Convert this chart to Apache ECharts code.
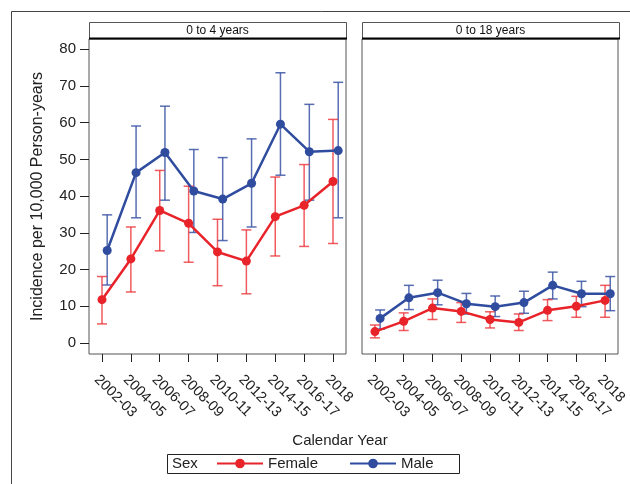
<!DOCTYPE html>
<html><head><meta charset="utf-8">
<script src="https://cdn.jsdelivr.net/npm/echarts@6/dist/echarts.min.js"></script>
<style>html,body{margin:0;padding:0;background:#fff}#c{width:630px;height:484px}</style>
</head><body><div id="c"></div>
<script>
const categories = ['2002-03','2004-05','2006-07','2008-09','2010-11','2012-13','2014-15','2016-17','2018'];
const yTicks = [0,10,20,30,40,50,60,70,80];
const panelTitles = ['0 to 4 years','0 to 18 years'];

const femaleA = [11.8, 22.9, 36.1, 32.6, 24.8, 22.3, 34.4, 37.5, 44.0];
const femaleALo = [5.2, 13.9, 25.1, 22.0, 15.6, 13.4, 23.7, 26.3, 27.1];
const femaleAHi = [18.1, 31.6, 47.0, 42.7, 33.7, 30.8, 45.2, 48.6, 60.9];
const maleA = [25.2, 46.4, 51.9, 41.4, 39.2, 43.5, 59.6, 52.1, 52.4];
const maleALo = [15.8, 34.1, 38.9, 30.1, 27.9, 31.6, 45.7, 38.9, 34.1];
const maleAHi = [34.9, 59.1, 64.5, 52.7, 50.5, 55.6, 73.6, 65.0, 71.0];

const femaleB = [3.1, 5.9, 9.5, 8.6, 6.4, 5.6, 8.9, 10.0, 11.6];
const femaleBLo = [1.4, 3.4, 6.4, 5.6, 4.1, 3.4, 6.1, 7.0, 7.0];
const femaleBHi = [4.9, 8.2, 12.0, 11.0, 8.5, 7.9, 11.8, 12.7, 15.7];
const maleB = [6.7, 12.3, 13.7, 10.7, 9.9, 11.0, 15.7, 13.4, 13.4];
const maleBLo = [3.8, 9.1, 10.4, 7.9, 7.2, 8.1, 12.0, 9.9, 8.8];
const maleBHi = [9.0, 15.7, 17.1, 13.5, 12.8, 14.1, 19.3, 16.8, 18.1];

const FONT = "'Liberation Sans', Arial, sans-serif";
const RED = '#e8232a', BLUE = '#2f4c9f';
const RED_BAR = 'rgba(236,50,55,0.8)', BLUE_BAR = 'rgba(60,85,165,0.85)';
const MALE_OFFSET = 0.18;
const idx = categories.map((_, i) => i);

function pts(vals, off) { return vals.map((v, i) => [i + off, v]); }
function bars(lo, hi, off) { return lo.map((l, i) => [i + off, l, hi[i]]); }

function errSeries(name, data, gi, color, lineColor) {
  return {
    type: 'custom', name: name, xAxisIndex: gi, yAxisIndex: gi, z: 2,
    silent: true, itemStyle: { color: lineColor },
    data: data,
    renderItem: function (params, api) {
      const x = api.value(0);
      const a = api.coord([x, api.value(1)]);
      const b = api.coord([x, api.value(2)]);
      const w = 5;
      const st = { stroke: color, lineWidth: 1.5, fill: null };
      return { type: 'group', children: [
        { type: 'line', shape: { x1: a[0], y1: a[1], x2: b[0], y2: b[1] }, style: st },
        { type: 'line', shape: { x1: a[0]-w, y1: a[1], x2: a[0]+w, y2: a[1] }, style: st },
        { type: 'line', shape: { x1: b[0]-w, y1: b[1], x2: b[0]+w, y2: b[1] }, style: st }
      ]};
    }
  };
}
function lineSeries(name, data, gi, color, z) {
  return {
    type: 'line', name: name, xAxisIndex: gi, yAxisIndex: gi, z: z,
    data: data, symbol: 'circle', symbolSize: 9, showSymbol: true,
    lineStyle: { color: color, width: 2.5 }, itemStyle: { color: color },
    animation: false
  };
}

const grids = [
  { left: 89, top: 39, width: 257, height: 315 },
  { left: 362, top: 39, width: 257, height: 315 }
];
const xAxes = grids.map((g, gi) => ({
  type: 'value', gridIndex: gi, min: -0.45, max: 8.45,
  axisLine: { show: false, onZero: false }, splitLine: { show: false },
  axisTick: { show: true, customValues: idx, length: 8, inside: false, lineStyle: { color: '#222', width: 1 } },
  axisLabel: { customValues: idx, rotate: -45, margin: 18, fontSize: 14.5, fontFamily: FONT, color: '#222',
    verticalAlign: 'top', formatter: v => categories[Math.round(v)] }
}));
const yAxes = grids.map((g, gi) => ({
  type: 'value', gridIndex: gi, min: -3, max: 82.8,
  axisLine: { show: false, onZero: false }, splitLine: { show: false },
  axisTick: { show: gi === 0, customValues: yTicks, length: 9, lineStyle: { color: '#222', width: 1 } },
  axisLabel: { show: gi === 0, customValues: yTicks, margin: 13, fontSize: 15, fontFamily: FONT, color: '#222' },
  name: gi === 0 ? 'Incidence per 10,000 Person-years' : '',
  nameLocation: 'middle', nameGap: 43,
  nameTextStyle: { fontSize: 16, fontFamily: FONT, color: '#222' }
}));

const series = [
  lineSeries('Female', pts(femaleA, 0), 0, RED, 4),
  lineSeries('Male', pts(maleA, MALE_OFFSET), 0, BLUE, 3),
  lineSeries('Female', pts(femaleB, 0), 1, RED, 4),
  lineSeries('Male', pts(maleB, MALE_OFFSET), 1, BLUE, 3),
  errSeries('Male', bars(maleALo, maleAHi, MALE_OFFSET), 0, BLUE_BAR, BLUE),
  errSeries('Female', bars(femaleALo, femaleAHi, 0), 0, RED_BAR, RED),
  errSeries('Male', bars(maleBLo, maleBHi, MALE_OFFSET), 1, BLUE_BAR, BLUE),
  errSeries('Female', bars(femaleBLo, femaleBHi, 0), 1, RED_BAR, RED)
];

const graphics = [
  { type: 'rect', shape: { x: 11.5, y: 11.5, width: 700, height: 600 }, style: { fill: null, stroke: '#444', lineWidth: 1 }, z: -1 },
];
grids.forEach((g, gi) => {
  graphics.push({ type: 'rect', shape: { x: g.left + 0.5, y: 22.5, width: g.width, height: 16 }, style: { fill: '#fff', stroke: '#555', lineWidth: 1 }, z: 5 });
  graphics.push({ type: 'line', shape: { x1: g.left, y1: 38.5, x2: g.left + g.width + 1, y2: 38.5 }, style: { stroke: '#000', lineWidth: 2 }, z: 6 });
  graphics.push({ type: 'text', x: g.left + g.width / 2, y: 30.5, style: { text: panelTitles[gi], font: '12px ' + FONT, fill: '#111', align: 'center', verticalAlign: 'middle' }, z: 7 });
});
graphics.push({ type: 'text', x: 340, y: 441, style: { text: 'Calendar Year', font: '15px ' + FONT, fill: '#222', align: 'center', verticalAlign: 'middle' } });
graphics.push({ type: 'rect', shape: { x: 167.5, y: 454.5, width: 292, height: 19 }, style: { fill: null, stroke: '#222', lineWidth: 1 } });
graphics.push({ type: 'text', x: 172, y: 464, style: { text: 'Sex', font: '15px ' + FONT, fill: '#222', align: 'left', verticalAlign: 'middle' } });

const chart = echarts.init(document.getElementById('c'), null, { renderer: 'canvas' });
chart.setOption({
  animation: false,
  backgroundColor: '#fff',
  grid: grids.map(g => Object.assign({ show: true, borderColor: '#555', borderWidth: 1, backgroundColor: 'transparent' }, g)),
  xAxis: xAxes,
  yAxis: yAxes,
  legend: {
    data: ['Female', 'Male'],
    left: 216, top: 456, itemWidth: 46, itemHeight: 12, itemGap: 31, padding: 0,
    textStyle: { fontSize: 15, fontFamily: FONT, color: '#222' },
    selectedMode: false
  },
  series: series,
  graphic: graphics
});
</script></body></html>
